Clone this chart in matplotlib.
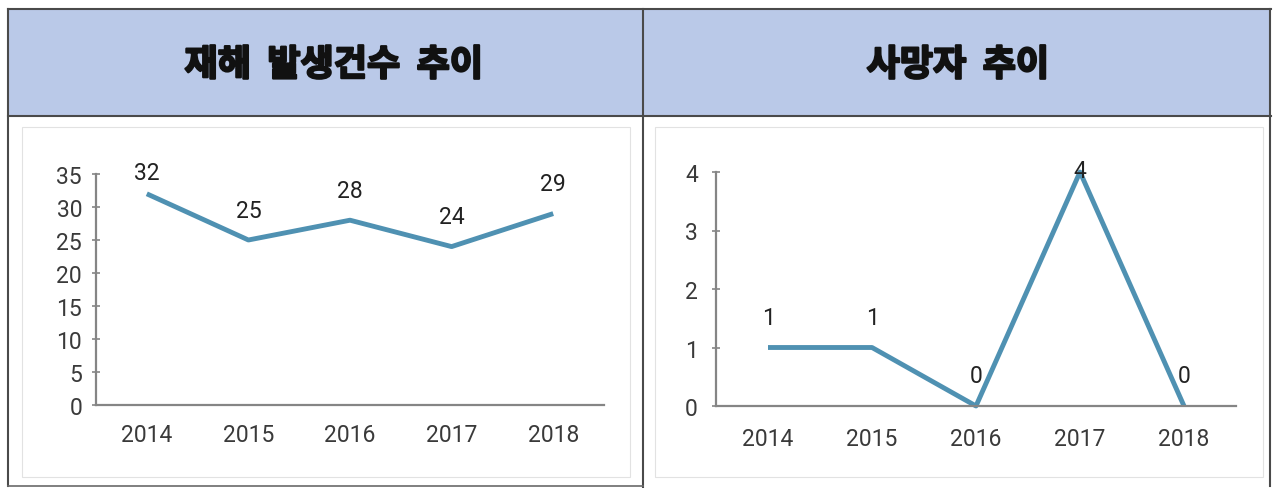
import matplotlib
matplotlib.use('Agg')
import matplotlib.pyplot as plt
import matplotlib.patheffects as pe
from matplotlib.patches import Rectangle
from matplotlib.lines import Line2D

# data
years = ['2014', '2015', '2016', '2017', '2018']
accidents = [32, 25, 28, 24, 29]      # 재해 발생건수
deaths = [1, 1, 0, 4, 0]              # 사망자

W, H = 1273, 489
fig = plt.figure(figsize=(W / 100, H / 100), dpi=100)
fig.patch.set_facecolor('white')

line_color = '#4f91b2'
axis_color = '#858585'
num_font = ['Roboto', 'DejaVu Sans']
kr_font = ['Noto Sans CJK KR', 'DejaVu Sans']


def px_rect(x0, y0, x1, y1):
    # pixel box (top-left origin) -> figure fraction [left, bottom, width, height]
    return [x0 / W, 1 - y1 / H, (x1 - x0) / W, (y1 - y0) / H]


# table background: header band, borders, chart frames
bg = fig.add_axes([0, 0, 1, 1])
bg.set_xlim(0, W)
bg.set_ylim(H, 0)
bg.axis('off')
bg.add_patch(Rectangle((8, 10), 1263, 107, facecolor='#bac9e8', edgecolor='none'))
for frame_x in (22, 655):
    bg.add_patch(Rectangle((frame_x, 128), 608, 350, facecolor='none',
                           edgecolor='#e2e2e2', lw=0.8))
border = dict(color='#4a4a4a', lw=1.5)
bg.add_line(Line2D([8, 1271], [10, 10], **border))
bg.add_line(Line2D([8, 1271], [117, 117], **border))
bg.add_line(Line2D([8, 8], [10, 487], **border))
bg.add_line(Line2D([643, 643], [10, 489], **border))
bg.add_line(Line2D([1270, 1270], [10, 487], **border))
bg.add_line(Line2D([8, 643], [487, 487], color='#6a6a6a', lw=1.2))

# heavy headline look: bold glyphs thickened with a stroke
heavy = [pe.withStroke(linewidth=1.6, foreground='#111111')]
bg.text(334, 66, '재해  발생건수  추이', ha='center', va='center', fontsize=26,
        fontweight='bold', family=kr_font, color='#111111', path_effects=heavy)
bg.text(958, 66, '사망자  추이', ha='center', va='center', fontsize=26,
        fontweight='bold', family=kr_font, color='#111111', path_effects=heavy)


def line_chart(box, values, ymax, ystep, ypad, xpad):
    ax = fig.add_axes(px_rect(*box))
    x = list(range(len(years)))
    ax.plot(x, values, color=line_color, lw=3.5, solid_capstyle='butt', clip_on=False)
    ax.set_xlim(-0.5, len(years) - 0.5)
    ax.set_ylim(0, ymax)
    ax.set_xticks(x)
    ax.set_xticklabels(years)
    ax.set_yticks(range(0, ymax + 1, ystep))
    ax.patch.set_alpha(0)
    for side in ('top', 'right'):
        ax.spines[side].set_visible(False)
    for side in ('left', 'bottom'):
        ax.spines[side].set_color(axis_color)
        ax.spines[side].set_linewidth(1.6)
    ax.tick_params(axis='y', direction='inout', length=6, width=1.2, color=axis_color,
                   pad=ypad, labelsize=16.5, labelcolor='#3a3a3a')
    ax.tick_params(axis='x', length=0, pad=xpad, labelsize=16.5, labelcolor='#3a3a3a')
    for lab in ax.get_xticklabels() + ax.get_yticklabels():
        lab.set_family(num_font)

    # value labels sit about 30 px above the point, held under the top of the plot
    h_px = (box[3] - box[1])
    for xi, v in zip(x, values):
        p = v / ymax * h_px
        off = min(30, h_px + 2 - p)
        ax.annotate(str(v), (xi, v), xytext=(0, off), textcoords='offset pixels',
                    ha='center', va='center', fontsize=16.5, color='#222222',
                    family=num_font, annotation_clip=False)
    return ax


line_chart((96, 175, 604, 406), accidents, 35, 5, 7, 13)
line_chart((716, 173, 1236, 407), deaths, 4, 1, 10, 15)

fig.savefig('out.png', dpi=100, facecolor='white')
